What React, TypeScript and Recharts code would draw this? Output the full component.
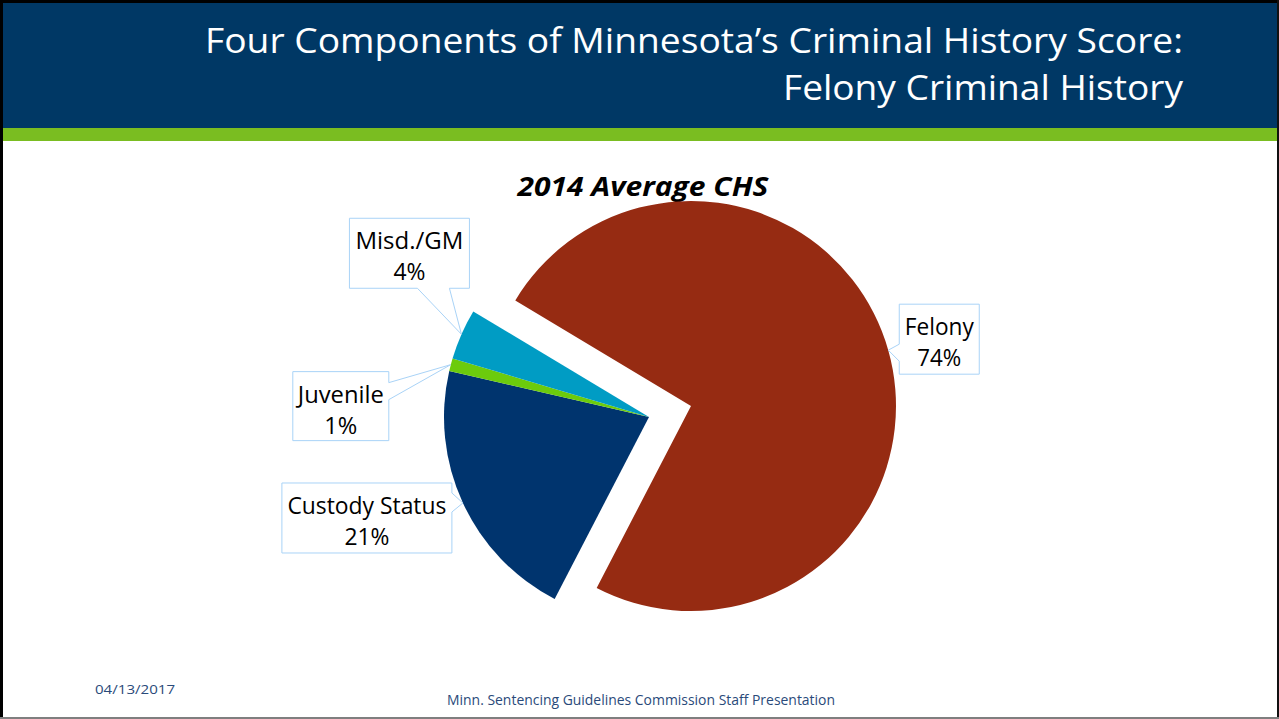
import React from 'react';
import { PieChart, Pie, Cell } from 'recharts';

// ---- data ----
const categories = ['Felony', 'Custody Status', 'Juvenile', 'Misd./GM'];
const shares = [74, 21, 1, 4];
const percentLabels = ['74%', '21%', '1%', '4%'];
const sliceColors = ['#962B12', '#00346E', '#6CCB0C', '#009CC4'];
const chartTitle = '2014 Average CHS';
const slideTitle1 = 'Four Components of Minnesota\u2019s Criminal History Score:';
const slideTitle2 = 'Felony Criminal History';
const footerDate = '04/13/2017';
const footerText = 'Minn. Sentencing Guidelines Commission Staff Presentation';

const data = categories.map((name, i) => ({ name, value: shares[i] }));

// ---- layout / style ----
const W = 1279;
const H = 719;
const FONT = '"Open Sans", "Noto Sans", sans-serif';
const RADIUS = 205;
const START = 149;
const END = START - 360;
const CENTER_MAIN = { x: 649, y: 417 };
const CENTER_EXPLODED = { x: 691, y: 406 };

type Callout = {
  dx: number; dy: number; w: number; h: number;
  side: 'left' | 'right' | 'bottom';
  a: number; b: number; // wedge base offsets (relative to tip)
  nameLen: number; pctLen: number;
};

const callouts: Callout[] = [
  { dx: 11, dy: -46, w: 80, h: 70, side: 'left', a: -6, b: 11, nameLen: 69, pctLen: 44 },
  { dx: -181, dy: -20, w: 170, h: 70, side: 'right', a: -10, b: 9, nameLen: 159, pctLen: 45 },
  { dx: -158, dy: 7, w: 96, h: 69, side: 'right', a: 18, b: 35, nameLen: 86, pctLen: 33 },
  { dx: -112, dy: -116, w: 120, h: 70, side: 'bottom', a: -44, b: -12, nameLen: 108, pctLen: 32 },
];

const RAD = Math.PI / 180;

function calloutPath(tx: number, ty: number, c: Callout) {
  const L = tx + c.dx;
  const T = ty + c.dy;
  const R = L + c.w;
  const B = T + c.h;
  if (c.side === 'left') {
    return `M${L},${T} L${R},${T} L${R},${B} L${L},${B} L${L},${ty + c.b} L${tx},${ty} L${L},${ty + c.a} Z`;
  }
  if (c.side === 'right') {
    return `M${L},${T} L${R},${T} L${R},${ty + c.a} L${tx},${ty} L${R},${ty + c.b} L${R},${B} L${L},${B} Z`;
  }
  return `M${L},${T} L${R},${T} L${R},${B} L${tx + c.b},${B} L${tx},${ty} L${tx + c.a},${B} L${L},${B} Z`;
}

function makeLabel(allowed: number[]) {
  return (p: any) => {
    const i = p.index;
    if (!allowed.includes(i)) return null;
    const c = callouts[i];
    const tx = p.cx + p.outerRadius * Math.cos(-p.midAngle * RAD);
    const ty = p.cy + p.outerRadius * Math.sin(-p.midAngle * RAD);
    const L = tx + c.dx;
    const T = ty + c.dy;
    const mx = L + c.w / 2;
    return (
      <g key={`lbl-${i}`}>
        <path d={calloutPath(tx, ty, c)} fill="#FFFFFF" stroke="#A9D3F7" strokeWidth={1} />
        <text x={mx} y={T + 31} textAnchor="middle" fontFamily={FONT} fontSize={23} fill="#000"
          textLength={c.nameLen} lengthAdjust="spacingAndGlyphs">{categories[i]}</text>
        <text x={mx} y={T + 62} textAnchor="middle" fontFamily={FONT} fontSize={23} fill="#000"
          textLength={c.pctLen} lengthAdjust="spacingAndGlyphs">{percentLabels[i]}</text>
      </g>
    );
  };
}

export default function App() {
  return (
    <div style={{ position: 'absolute', left: 0, top: 0, width: W, height: H, background: '#fff', overflow: 'hidden' }}>
      <svg width={W} height={H} style={{ position: 'absolute', left: 0, top: 0 }}>
        <rect x={0} y={0} width={W} height={H} fill="#FFFFFF" />
        <rect x={0} y={0} width={W} height={129} fill="#003865" />
        <rect x={0} y={128} width={W} height={13} fill="#7ABD21" />
        {/* frame */}
        <rect x={0} y={0} width={W} height={3} fill="#000" />
        <rect x={0} y={0} width={3} height={H} fill="#000" />
        <rect x={W - 2} y={0} width={2} height={H} fill="#111" />
        <rect x={0} y={H - 2} width={W} height={2} fill="#7F7F7F" />
        <text x={1183} y={53} textAnchor="end" fontFamily={FONT} fontSize={35} fill="#FFFFFF"
          textLength={978} lengthAdjust="spacingAndGlyphs">{slideTitle1}</text>
        <text x={1183} y={100} textAnchor="end" fontFamily={FONT} fontSize={35} fill="#FFFFFF"
          textLength={400} lengthAdjust="spacingAndGlyphs">{slideTitle2}</text>
        <text x={643} y={196} textAnchor="middle" fontFamily={FONT} fontSize={27} fontWeight={700}
          fontStyle="italic" fill="#000" textLength={251} lengthAdjust="spacingAndGlyphs">{chartTitle}</text>
        <text x={95} y={694} fontFamily={FONT} fontSize={13} fill="#2A4A7A"
          textLength={80} lengthAdjust="spacingAndGlyphs">{footerDate}</text>
        <text x={641} y={705} textAnchor="middle" fontFamily={FONT} fontSize={14} fill="#2A4A7A"
          textLength={388} lengthAdjust="spacingAndGlyphs">{footerText}</text>
      </svg>
      <div style={{ position: 'absolute', left: 0, top: 0 }}>
        <PieChart width={W} height={H} margin={{ top: 0, right: 0, bottom: 0, left: 0 }}>
          <Pie
            data={data}
            dataKey="value"
            nameKey="name"
            cx={CENTER_EXPLODED.x}
            cy={CENTER_EXPLODED.y}
            outerRadius={RADIUS}
            startAngle={START}
            endAngle={END}
            isAnimationActive={false}
            labelLine={false}
            label={makeLabel([0])}
          >
            {data.map((d, i) => (
              <Cell key={d.name} fill={i === 0 ? sliceColors[i] : 'none'} stroke="none" />
            ))}
          </Pie>
          <Pie
            data={data}
            dataKey="value"
            nameKey="name"
            cx={CENTER_MAIN.x}
            cy={CENTER_MAIN.y}
            outerRadius={RADIUS}
            startAngle={START}
            endAngle={END}
            isAnimationActive={false}
            labelLine={false}
            label={makeLabel([1, 2, 3])}
          >
            {data.map((d, i) => (
              <Cell key={d.name} fill={i === 0 ? 'none' : sliceColors[i]} stroke="none" />
            ))}
          </Pie>
        </PieChart>
      </div>
    </div>
  );
}
